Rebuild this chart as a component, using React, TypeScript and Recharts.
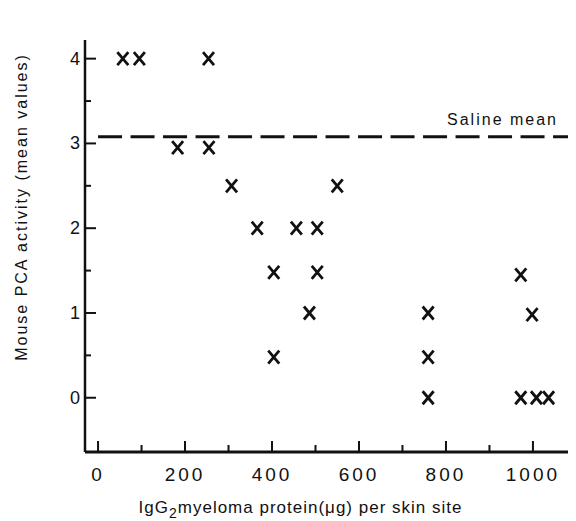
import { ScatterChart, Scatter, XAxis, YAxis, ReferenceLine } from "recharts";

// values
const doseUg = [57, 95, 254, 183, 255, 307, 550, 366, 456, 504, 404, 504, 486, 404, 759, 759, 759, 972, 998, 972, 1008, 1036];
const pcaActivity = [4, 4, 4, 2.95, 2.95, 2.5, 2.5, 2, 2, 2, 1.48, 1.48, 1, 0.48, 1, 0.48, 0, 1.45, 0.98, 0, 0, 0];
const xTicks = [0, 100, 200, 300, 400, 500, 600, 700, 800, 900, 1000];
const yTicks = [0, 0.5, 1, 1.5, 2, 2.5, 3, 3.5, 4];
const salineMean = 3.08;

const points = doseUg.map((x, i) => ({ x, y: pcaActivity[i] }));

const INK = "#111";

function XTick({ x, y, payload }: any) {
  const major = payload.value % 200 === 0;
  return (
    <g>
      <line x1={x} x2={x} y1={y} y2={y - (major ? 11 : 7)} stroke={INK} strokeWidth={2} />
      {major && (
        <text x={x} y={y + 29} textAnchor="middle" fontSize={19} fill={INK} letterSpacing={3}>
          {payload.value}
        </text>
      )}
    </g>
  );
}

function YTick({ x, y, payload }: any) {
  const major = Number.isInteger(payload.value);
  return (
    <g>
      <line x1={x} x2={x + (major ? 11 : 6)} y1={y} y2={y} stroke={INK} strokeWidth={2} />
      {major && (
        <text x={x - 5} y={y + 6} textAnchor="end" fontSize={18} fill={INK}>
          {payload.value}
        </text>
      )}
    </g>
  );
}

function XMark({ cx, cy }: any) {
  const w = 5.5;
  const h = 6.5;
  return (
    <path
      d={`M${cx - w},${cy - h}L${cx + w},${cy + h}M${cx + w},${cy - h}L${cx - w},${cy + h}`}
      stroke={INK}
      strokeWidth={2.8}
      fill="none"
    />
  );
}

function YLabel({ viewBox }: any) {
  const cx = viewBox.x + 13;
  const cy = viewBox.y + viewBox.height / 2 - 39;
  return (
    <text
      x={cx}
      y={cy}
      transform={`rotate(-90, ${cx}, ${cy})`}
      textAnchor="middle"
      dominantBaseline="central"
      fontSize={16}
      letterSpacing={2}
      fill={INK}
    >
      Mouse PCA activity (mean values)
    </text>
  );
}

function XLabel({ viewBox }: any) {
  const cx = viewBox.x + viewBox.width / 2 - 30;
  return (
    <text x={cx} y={viewBox.y + 61} textAnchor="middle" fontSize={17} letterSpacing={1} fill={INK}>
      <tspan>IgG</tspan>
      <tspan dy={5} fontSize={14}>2</tspan>
      <tspan dy={-5}>myeloma  protein(μg) per  skin  site</tspan>
    </text>
  );
}

function SalineLabel({ viewBox }: any) {
  return (
    <text
      x={viewBox.x + viewBox.width - 18}
      y={viewBox.y - 12}
      textAnchor="end"
      fontSize={16}
      letterSpacing={2}
      fill={INK}
    >
      Saline mean
    </text>
  );
}

export default function App() {
  return (
    <div style={{ fontFamily: "'Liberation Sans', sans-serif", background: "#fff" }}>
      <ScatterChart width={568} height={513} margin={{ top: 32, right: 0, bottom: 0, left: 0 }}>
        <XAxis
          type="number"
          dataKey="x"
          domain={[-30, 1099]}
          ticks={xTicks}
          interval={0}
          height={69}
          tickSize={0}
          tickMargin={0}
          tickLine={false}
          tick={<XTick />}
          axisLine={{ stroke: INK, strokeWidth: 3 }}
          allowDataOverflow
          label={{ content: <XLabel /> }}
        />
        <YAxis
          type="number"
          dataKey="y"
          domain={[-0.64, 4.22]}
          ticks={yTicks}
          interval={0}
          width={77}
          tickSize={0}
          tickMargin={0}
          tickLine={false}
          tick={<YTick />}
          axisLine={{ stroke: INK, strokeWidth: 2.5 }}
          allowDataOverflow
          label={{ content: <YLabel /> }}
        />
        <ReferenceLine
          segment={[
            { x: 0, y: salineMean },
            { x: 1099, y: salineMean },
          ]}
          stroke={INK}
          strokeWidth={3}
          strokeDasharray="24 8.5"
          label={{ content: <SalineLabel /> }}
        />
        <Scatter data={points} shape={<XMark />} isAnimationActive={false} />
      </ScatterChart>
    </div>
  );
}
